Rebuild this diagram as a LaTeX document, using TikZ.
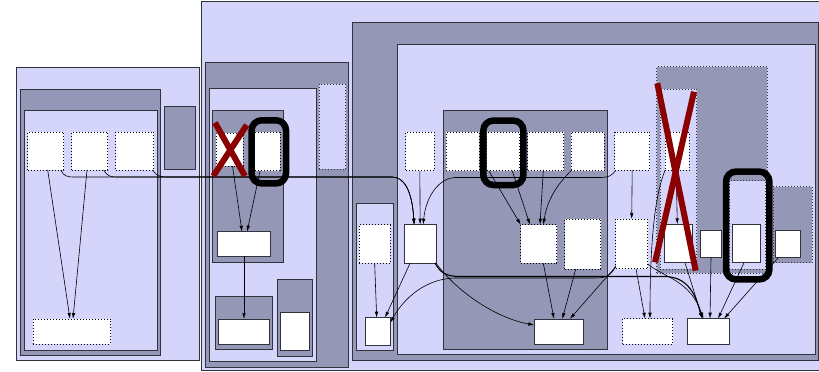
\documentclass[tikz,border=0pt]{standalone}
\usetikzlibrary{arrows.meta}
\definecolor{lite}{RGB}{213,213,252}
\definecolor{grayc}{RGB}{148,151,181}
\definecolor{xred}{RGB}{139,0,0}
\definecolor{bord}{RGB}{50,50,60}
\newcommand{\rbox}[6]{\node[#1,anchor=north west,minimum width={#5pt-#3pt},minimum height={#6pt-#4pt}] (#2) at (#3,#4) {};}
\tikzset{
  base/.style={rectangle,inner sep=0pt,outer sep=0pt},
  lightcl/.style={base,fill=lite,draw=bord,line width=0.9pt},
  graycl/.style={base,fill=grayc,draw=bord,line width=0.9pt},
  dlightcl/.style={base,fill=lite,draw=bord,line width=0.8pt,dash pattern=on 1pt off 2pt},
  dgraycl/.style={base,fill=grayc,draw=bord,line width=0.8pt,dash pattern=on 1pt off 2pt},
  dotbox/.style={base,fill=white,draw=black,line width=0.8pt,dash pattern=on 1pt off 2pt},
  solbox/.style={base,fill=white,draw=bord,line width=0.9pt},
  ring/.style={base,draw=black,line width=6.5pt,rounded corners=10pt},
  edge/.style={draw=black,line width=0.6pt,-{Latex[length=6pt,width=3.5pt]}},
  cross/.style={draw=xred,line width=6pt}
}
\begin{document}
\begin{tikzpicture}[x=1pt,y=-1pt]
\useasboundingbox (0,0) rectangle (819,372);
% cluster A
\rbox{lightcl}{Aout}{16.7}{67}{199}{360}
\rbox{graycl}{Agray}{20.5}{89}{160.5}{355}
\rbox{lightcl}{Ain}{24}{110.5}{157}{350}
\rbox{graycl}{Asm}{164}{106}{195}{169}
\rbox{dotbox}{a1}{27.7}{132}{63.7}{170}
\rbox{dotbox}{a2}{71.7}{132}{107.7}{170}
\rbox{dotbox}{a3}{115.7}{132}{153.7}{170}
\rbox{dotbox}{a4}{33.3}{319}{110.7}{344}
% cluster B
\rbox{lightcl}{Bout}{201.7}{1.7}{820}{370}
\rbox{graycl}{Bg1}{205.7}{62}{348.3}{367}
\rbox{lightcl}{Bl1}{209.3}{88}{316}{361}
\rbox{dlightcl}{Bdl}{319}{84}{345.7}{169}
\rbox{graycl}{Bg2}{212.3}{110}{283.7}{262}
\rbox{dotbox}{b1}{216}{133}{243}{166}
\rbox{dotbox}{b2}{252.3}{132}{280}{170.7}
\rbox{solbox}{b3}{217.3}{231.7}{270.7}{256}
\rbox{graycl}{Bg3}{215.3}{296.7}{272.7}{349.3}
\rbox{solbox}{b4}{218.7}{319}{269.3}{344}
\rbox{graycl}{Bg4}{277.3}{279.3}{312.7}{356}
\rbox{solbox}{b5}{280.7}{312}{309}{350.7}
% cluster C
\rbox{graycl}{Cg}{352.3}{22.7}{818.3}{360}
\rbox{lightcl}{Cl}{397.7}{44.3}{815.7}{354.3}
\rbox{lightcl}{Cs}{356}{203.3}{393.3}{350.7}
\rbox{dotbox}{c1}{359}{224.7}{390.3}{263.3}
\rbox{solbox}{c2}{365.7}{317.7}{390.3}{345.3}
\rbox{dotbox}{c3}{405.7}{132.3}{434}{170.7}
\rbox{solbox}{c4}{404.3}{224.7}{436}{263}
\rbox{graycl}{Cg2}{443}{110.7}{607.7}{349}
\rbox{dotbox}{d1}{446.3}{132.3}{479}{170.7}
\rbox{dotbox}{d2}{486.7}{132.3}{519.7}{170.7}
\rbox{dotbox}{d3}{527.7}{132.3}{563.7}{170.7}
\rbox{dotbox}{d4}{571}{132.3}{604}{170.7}
\rbox{dotbox}{d5}{520.7}{224.7}{556.7}{263.3}
\rbox{dotbox}{d6}{564.7}{219}{600.7}{269}
\rbox{solbox}{d7}{534.3}{319}{583.3}{344}
\rbox{dotbox}{e1}{614.7}{132}{649.7}{170.3}
\rbox{dotbox}{e2}{615.7}{219}{647.7}{268.7}
\rbox{dgraycl}{D}{656.7}{66.7}{767.3}{273.3}
\rbox{dlightcl}{Dl}{660}{89}{696.7}{269.3}
\rbox{dotbox}{f1}{665}{132}{689.3}{170.3}
\rbox{solbox}{f2}{664.3}{224.3}{692.3}{262.7}
\rbox{solbox}{f3}{700.3}{230.7}{721.7}{257.7}
\rbox{dlightcl}{Dl2}{729}{180.7}{765.7}{269.3}
\rbox{solbox}{f4}{732.7}{224.3}{760.7}{262.7}
\rbox{dgraycl}{E}{773}{186.7}{812}{262.7}
\rbox{solbox}{f5}{775.3}{230.7}{800.7}{257.7}
\rbox{dotbox}{g1}{622.7}{318.7}{672.7}{344}
\rbox{solbox}{g2}{687.7}{318.7}{729.3}{344}
% edges
\draw[edge] ([xshift=2pt]a1.south) -- ([xshift=-2pt]a4.north);
\draw[edge] ([xshift=-2.7pt]a2.south) -- ([xshift=1pt]a4.north);
\draw[edge] ([xshift=-3pt]a1.south east) .. controls (64,176) and (66,177) .. (75,177) -- (392,177) .. controls (404,177) and (412,190) .. ([xshift=-6pt]c4.north);
\draw[edge] ([xshift=-4pt]a2.south east) .. controls (107,176) and (110,177) .. (118,177) -- (392,177) .. controls (404,177) and (412,190) .. ([xshift=-6pt]c4.north);
\draw[edge] ([xshift=-1pt]a3.south east) .. controls (156,176) and (160,177) .. (168,177) -- (392,177) .. controls (404,177) and (412,190) .. ([xshift=-6pt]c4.north);
\draw[edge] ([xshift=3pt]b1.south) -- ([xshift=-2pt]b3.north);
\draw[edge] ([xshift=-6pt]b2.south) -- ([xshift=3pt]b3.north);
\draw[edge] (b3.south) -- (b4.north);
\draw[edge] (c3.south) -- (c4.north);
\draw[edge] ([xshift=1pt]e1.south west) .. controls (612,176) and (608,177.5) .. (600,177.5) -- (455,177.5) .. controls (440,178) and (426,195) .. ([xshift=3pt]c4.north);
\draw[edge] ([xshift=2pt]d2.south west) -- (d5.north west);
\draw[edge] ([xshift=9pt]d2.south) -- ([xshift=-8.7pt]d5.north);
\draw[edge] ([xshift=-2.4pt]d3.south) -- ([xshift=1.3pt]d5.north);
\draw[edge] (d4.south west) .. controls (562,180) and (548,195) .. ([xshift=4.6pt]d5.north);
\draw[edge] ([xshift=4.6pt]d5.south) -- ([xshift=-4.8pt]d7.north);
\draw[edge] ([xshift=-7pt]d6.south) -- ([xshift=3.5pt]d7.north);
\draw[edge] ([yshift=2pt]e2.south west) -- ([xshift=11pt]d7.north);
\draw[edge] (c1.south) -- ([xshift=-1.3pt]c2.north);
\draw[edge] ([xshift=-10pt]c4.south) -- ([xshift=7pt]c2.north);
\draw[edge] (c4.south east) .. controls (455,290) and (495,318) .. ([yshift=-6pt]d7.north west);
\draw[edge,line width=1.1pt] ([xshift=-1pt]c4.south east) .. controls (440,272) and (445,276.5) .. (460,276.5) -- (665,276.5) .. controls (685,277) and (695,290) .. ([xshift=-6.8pt]g2.north);
\draw[edge] ([yshift=4.7pt]e2.south east) .. controls (665,278) and (690,280) .. ([xshift=-5pt]g2.north);
\draw[edge] ([yshift=3pt]e2.south west) .. controls (612,276) and (605,278) .. (595,278) -- (455,278) .. controls (420,279) and (400,305) .. ([yshift=-5pt]c2.north east);
\draw[edge] (e1.south) -- (e2.north);
\draw[edge] ([xshift=-1pt]f1.south) -- ([xshift=-1pt]f2.north);
\draw[edge] (f1.south west) .. controls (655,195) and (650,240) .. ([xshift=2.3pt]g1.north);
\draw[edge] ([xshift=4.3pt]e2.south) -- ([xshift=-2.7pt]g1.north);
\draw[edge] ([xshift=6.7pt]f2.south) -- ([xshift=-6pt]g2.north);
\draw[edge] (f3.south) -- ([xshift=1.5pt]g2.north);
\draw[edge] ([xshift=-2.7pt]f4.south) -- ([xshift=9.5pt]g2.north);
\draw[edge] ([xshift=3pt]f5.south west) -- ([xshift=15.5pt]g2.north);
% rings
\rbox{ring}{r1}{251.6}{120.3}{286}{183.4}
\rbox{ring}{r2}{483.3}{120.6}{523.4}{185}
\rbox{ring}{r3}{726}{171.6}{769.4}{279.4}
% crosses
\draw[cross] (215,122.7) -- (245,176);
\draw[cross] (246.7,125) -- (213.3,176);
\draw[cross] (657.3,83.3) -- (695.7,270.7);
\draw[cross] (694,91.7) -- (655,262.3);
\end{tikzpicture}
\end{document}
